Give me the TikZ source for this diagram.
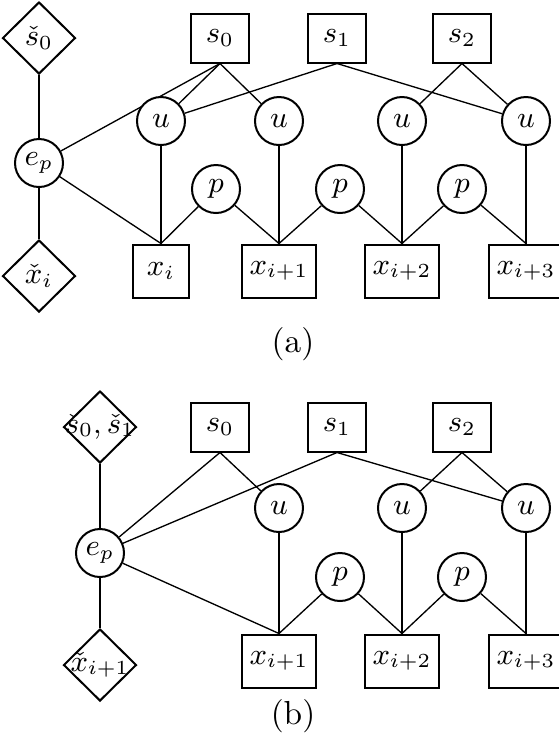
\documentclass[tikz,border=0pt]{standalone}
\usetikzlibrary{shapes.geometric}

\newcommand{\zw}[1]{\makebox[0pt]{$#1$}}

\begin{document}
\begin{tikzpicture}[x=0.3pt,y=-0.3pt,
    graph/.style={draw,line width=0.6pt,fill=white,font=\fontsize{9}{11}\selectfont},
    var/.style={graph,circle,minimum size=14.4pt,inner sep=0pt},
    seed/.style={graph,rectangle,minimum width=17.4pt,minimum height=14.7pt,inner sep=0pt},
    obs/.style={graph,rectangle,minimum width=16.8pt,minimum height=15.9pt,inner sep=2.4pt},
    prior/.style={graph,diamond,minimum width=21.9pt,minimum height=21.6pt,inner sep=0pt},
    link/.style={line width=0.4pt}]
    \useasboundingbox (0,0) rectangle (558,736);
    % (a)
    \node[seed] (sa0) at (220,38) {$s_0$};
    \node[seed] (sa1) at (337,38) {$s_1$};
    \node[seed] (sa2) at (462,38) {$s_2$};
    \node[prior] (da0) at (39,38) {\zw{\check{s}_0}};
    \node[var] (ea) at (39,163) {$e_p$};
    \draw[link] (da0) -- (ea);
    \draw[link] (ea) -- (sa0.south);
    \node[var] (ua1) at (161,121) {$u$};
    \draw[link] (sa0.south) -- (ua1);
    \draw[link] (sa1.south) -- (ua1);
    \node[var] (ua2) at (279,121) {$u$};
    \draw[link] (sa0.south) -- (ua2);
    \node[var] (ua3) at (402,121) {$u$};
    \draw[link] (sa2.south) -- (ua3);
    \node[var] (ua4) at (526,121) {$u$};
    \draw[link] (sa1.south) -- (ua4);
    \draw[link] (sa2.south) -- (ua4);
    \node[var] (pa1) at (216,189) {$p$};
    \node[var] (pa2) at (340,189) {$p$};
    \node[var] (pa3) at (462,189) {$p$};
    \node[obs] (xa1) at (161,271) {$x_i$};
    \draw[link] (ea) -- (xa1.north);
    \draw[link] (ua1) -- (xa1.north);
    \draw[link] (pa1) -- (xa1.north);
    \node[obs] (xa2) at (279,271) {$x_{i+1}$};
    \draw[link] (pa1) -- (xa2.north);
    \draw[link] (ua2) -- (xa2.north);
    \draw[link] (pa2) -- (xa2.north);
    \node[obs] (xa3) at (402,271) {$x_{i+2}$};
    \draw[link] (pa2) -- (xa3.north);
    \draw[link] (ua3) -- (xa3.north);
    \draw[link] (pa3) -- (xa3.north);
    \node[obs] (xa4) at (526,271) {$x_{i+3}$};
    \draw[link] (pa3) -- (xa4.north);
    \draw[link] (ua4) -- (xa4.north);
    \node[prior] (dax) at (39,276) {\zw{\check{x}_i}};
    \draw[link] (ea) -- (dax);
    \node (capa) at (293,344) {(a)};
    % (b)
    \node[seed] (sb0) at (220,427) {$s_0$};
    \node[seed] (sb1) at (337,427) {$s_1$};
    \node[seed] (sb2) at (462,427) {$s_2$};
    \node[prior] (db0) at (100,427) {\zw{\check{s}_0,\check{s}_1}};
    \node[var] (eb) at (100,553) {$e_p$};
    \draw[link] (db0) -- (eb);
    \draw[link] (eb) -- (sb0.south);
    \draw[link] (eb) -- (sb1.south);
    \node[var] (ub2) at (279,508) {$u$};
    \draw[link] (sb0.south) -- (ub2);
    \node[var] (ub3) at (402,508) {$u$};
    \draw[link] (sb2.south) -- (ub3);
    \node[var] (ub4) at (526,508) {$u$};
    \draw[link] (sb1.south) -- (ub4);
    \draw[link] (sb2.south) -- (ub4);
    \node[var] (pb2) at (340,577) {$p$};
    \node[var] (pb3) at (462,577) {$p$};
    \node[obs] (xb2) at (279,661) {$x_{i+1}$};
    \draw[link] (eb) -- (xb2.north);
    \draw[link] (ub2) -- (xb2.north);
    \draw[link] (pb2) -- (xb2.north);
    \node[obs] (xb3) at (402,661) {$x_{i+2}$};
    \draw[link] (pb2) -- (xb3.north);
    \draw[link] (ub3) -- (xb3.north);
    \draw[link] (pb3) -- (xb3.north);
    \node[obs] (xb4) at (526,661) {$x_{i+3}$};
    \draw[link] (pb3) -- (xb4.north);
    \draw[link] (ub4) -- (xb4.north);
    \node[prior] (dbx) at (100,665) {\zw{\check{x}_{i+1}}};
    \draw[link] (eb) -- (dbx);
    \node (capb) at (293,716) {(b)};
  \end{tikzpicture}
\end{document}
